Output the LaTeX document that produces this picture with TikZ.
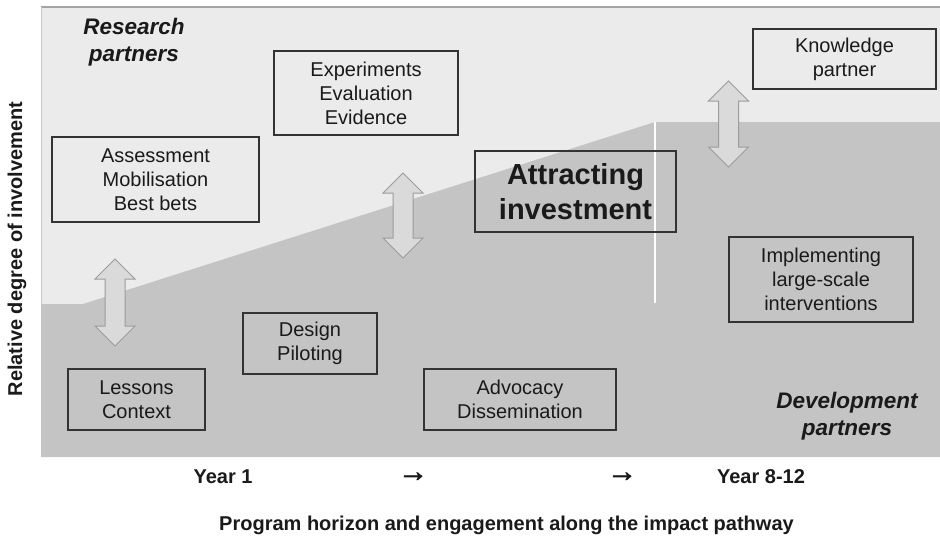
\documentclass[tikz,border=0pt]{standalone}
\usepackage{fontspec}
\setmainfont{Liberation Sans}
\newfontfamily\arrowfont[FakeBold=2.5]{Liberation Sans}
\definecolor{panellight}{HTML}{EBEBEB}
\definecolor{paneldark}{HTML}{C4C4C4}
\definecolor{panelrule}{HTML}{A4A4A4}
\definecolor{arrowfill}{HTML}{DADADA}
\definecolor{arrowedge}{HTML}{9C9C9C}
\definecolor{boxedge}{HTML}{333333}
\definecolor{ink}{HTML}{1A1A1A}
\tikzset{
  box/.style={draw=boxedge, line width=1.3pt, inner sep=0pt, align=center,
    text=ink, font=\fontsize{20}{24}\selectfont},
  bigbox/.style={box, font=\bfseries\fontsize{29}{35}\selectfont},
  partners/.style={align=center, text=ink, inner sep=0pt,
    font=\bfseries\itshape\fontsize{22.5}{27.5}\selectfont},
  axislabel/.style={text=ink, inner sep=0pt, font=\bfseries\fontsize{20}{24}\selectfont},
  steparrow/.style={text=ink, inner sep=0pt, font=\arrowfont\fontsize{30}{36}\selectfont},
  arrowsty/.style={fill=arrowfill, draw=arrowedge, line width=1pt, line join=miter},
  dblarrow/.pic={
    \draw[arrowsty] (0,-#1) -- (20,20-#1) -- (10,20-#1) -- (10,#1-20)
      -- (20,#1-20) -- (0,#1) -- (-20,#1-20) -- (-10,#1-20) -- (-10,20-#1)
      -- (-20,20-#1) -- cycle;
  }
}
\begin{document}
\begin{tikzpicture}[x=1pt,y=-1pt]
\useasboundingbox (0,0) rectangle (940,538);

% background panel: research (light) and development (dark) zones
\fill[panellight] (41,7) rectangle (940,457);
\fill[paneldark] (41,304) -- (83,304) -- (655,122) -- (940,122)
  -- (940,457) -- (41,457) -- cycle;
\draw[panelrule, line width=1.6pt] (41,7) -- (940,7);
\draw[panelrule!60, line width=0.8pt] (41,7) -- (41,304);
\draw[white, line width=1.6pt] (655,122) -- (655,303);

% two-way exchange arrows
\pic at (115,302.5) {dblarrow=43.5};
\pic at (403,215.5) {dblarrow=42.5};
\pic at (728.5,124) {dblarrow=43};

% zone labels
\node[partners] (research) at (134,42) {Research\\partners};
\node[partners] (development) at (847,416) {Development\\partners};

% activity boxes
\node[box, minimum width=207pt, minimum height=85pt] (assess) at (155.5,179.5)
  {Assessment\\Mobilisation\\Best bets};
\node[box, minimum width=184pt, minimum height=84pt] (experiments) at (366,93)
  {Experiments\\Evaluation\\Evidence};
\node[bigbox, minimum width=201pt, minimum height=81pt] (attract) at (575.5,191.5)
  {Attracting\\investment};
\node[box, minimum width=183pt, minimum height=60pt] (knowledge) at (844.5,59)
  {Knowledge\\partner};
\node[box, minimum width=184pt, minimum height=85pt] (implement) at (821,279.5)
  {Implementing\\large-scale\\interventions};
\node[box, minimum width=137pt, minimum height=61pt] (lessons) at (136.5,399.5)
  {Lessons\\Context};
\node[box, minimum width=134pt, minimum height=61pt] (design) at (310,343.5)
  {Design\\Piloting};
\node[box, minimum width=192pt, minimum height=61pt] (advocacy) at (520,399.5)
  {Advocacy\\Dissemination};

% axes
\node[axislabel] (year1) at (223,477) {Year 1};
\node[steparrow] (step1) at (413,477) {→};
\node[steparrow] (step2) at (622,477) {→};
\node[axislabel] (year8) at (761,477) {Year 8-12};
\node[axislabel] (xlabel) at (506.5,525)
  {Program horizon and engagement along the impact pathway};
\node[axislabel, rotate=90] (ylabel) at (17,249) {Relative degree of involvement};
\end{tikzpicture}
\end{document}
